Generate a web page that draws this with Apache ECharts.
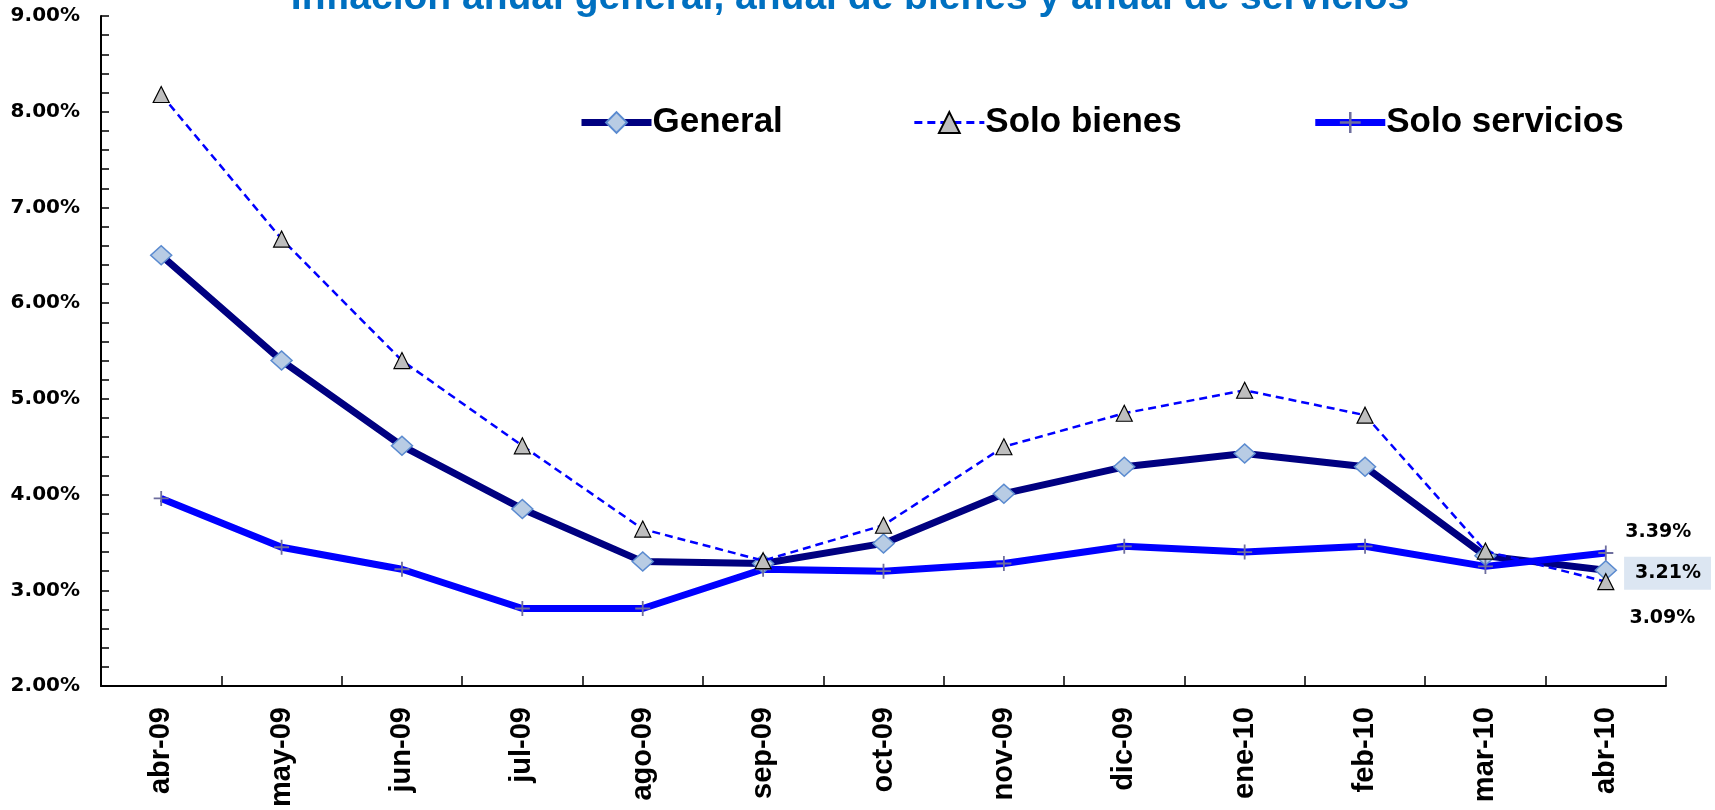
<!DOCTYPE html>
<html>
<head>
<meta charset="utf-8">
<script src="https://cdn.jsdelivr.net/npm/echarts@6/dist/echarts.min.js"></script>
<style>
  html, body { margin: 0; padding: 0; background: #fff; }
  #chart { width: 1715px; height: 810px; }
</style>
</head>
<body>
<div id="chart"></div>
<script>
// meses
const months = ["abr-09", "may-09", "jun-09", "jul-09", "ago-09", "sep-09", "oct-09",
  "nov-09", "dic-09", "ene-10", "feb-10", "mar-10", "abr-10"];
// inflación anual (%)
const general = [6.50, 5.40, 4.51, 3.85, 3.30, 3.28, 3.49, 4.01, 4.29, 4.43, 4.29, 3.36, 3.21];
const bienes = [8.18, 6.67, 5.40, 4.51, 3.64, 3.31, 3.68, 4.50, 4.85, 5.09, 4.83, 3.41, 3.09];
const servicios = [3.96, 3.45, 3.22, 2.81, 2.81, 3.22, 3.20, 3.28, 3.46, 3.40, 3.46, 3.25, 3.39];

const chart = echarts.init(document.getElementById("chart"));
const last = months.length - 1;
const plusIcon = "path://M4.4,0h1.2v4.4h4.4v1.2h-4.4v4.4h-1.2v-4.4h-4.4v-1.2h4.4z";

// solo el último punto lleva etiqueta
function withEndLabel(values, label) {
  return values.map((v, i) => {
    if (i !== last) return v;
    return {
      value: v,
      label: Object.assign({
        show: true,
        position: "right",
        color: "#000",
        fontFamily: "DejaVu Sans",
        fontWeight: "bold",
        fontSize: 19,
        formatter: (p) => p.value.toFixed(2) + "%"
      }, label)
    };
  });
}

const option = {
  animation: false,
  title: {
    text: "Inflación anual general, anual de bienes y anual de servicios",
    left: 845,
    textAlign: "center",
    top: -26,
    textStyle: {
      color: "#0070C0",
      fontFamily: "Liberation Sans",
      fontWeight: "bold",
      fontSize: 39
    }
  },
  legend: {
    data: [
      { name: "General", lineStyle: { width: 7 } },
      { name: "Solo bienes", lineStyle: { width: 3 } },
      { name: "Solo servicios", lineStyle: { width: 7 } }
    ],
    left: 573,
    top: 100,
    itemWidth: 70,
    itemHeight: 26,
    itemGap: 130,
    textStyle: {
      color: "#000",
      fontFamily: "Liberation Sans",
      fontWeight: "bold",
      fontSize: 35,
      padding: [0, 0, 0, -4]
    }
  },
  grid: { left: 101, right: 49, top: 16, bottom: 122, containLabel: false },
  xAxis: {
    type: "category",
    data: months,
    boundaryGap: true,
    axisLine: { lineStyle: { color: "#000", width: 2 } },
    axisTick: { show: true, inside: true, length: 10, lineStyle: { color: "#000", width: 1.5 } },
    axisLabel: {
      rotate: 90,
      margin: 21,
      color: "#000",
      fontFamily: "Liberation Sans",
      fontWeight: "bold",
      fontSize: 29
    }
  },
  yAxis: {
    type: "value",
    min: 2,
    max: 9,
    interval: 1,
    splitLine: { show: false },
    axisLine: { show: true, lineStyle: { color: "#000", width: 2 } },
    axisTick: { show: true, inside: true, length: 8, lineStyle: { color: "#000", width: 1.5 } },
    minorTick: { show: true, splitNumber: 5, length: 8, lineStyle: { color: "#000", width: 1.5 } },
    axisLabel: {
      margin: 21,
      color: "#000",
      fontFamily: "DejaVu Sans",
      fontWeight: "bold",
      fontSize: 20,
      formatter: (v) => v.toFixed(2) + "%"
    }
  },
  series: [
    {
      name: "Solo bienes",
      type: "line",
      data: withEndLabel(bienes, { offset: [10, 36] }),
      z: 3,
      symbol: "triangle",
      symbolSize: 16,
      lineStyle: { color: "#0000FF", width: 2.5, type: [8, 5] },
      itemStyle: { color: "#BEBEBE", borderColor: "#000", borderWidth: 1.2 },
      label: { show: false }
    },
    {
      name: "General",
      type: "line",
      data: withEndLabel(general, {
        offset: [2, 3],
        backgroundColor: "#DCE6F2",
        padding: [7, 10, 7, 11]
      }),
      z: 2,
      symbol: "diamond",
      symbolSize: [21, 19],
      lineStyle: { color: "#000080", width: 7 },
      itemStyle: { color: "#B8CCE4", borderColor: "#5B8BD0", borderWidth: 1.5 },
      label: { show: false }
    },
    {
      name: "Solo servicios",
      type: "line",
      data: withEndLabel(servicios, { offset: [7, -21] }),
      z: 2,
      symbol: plusIcon,
      symbolSize: 15,
      lineStyle: { color: "#0000FF", width: 7 },
      itemStyle: { color: "#6E6E9E" },
      label: { show: false }
    }
  ]
};

chart.setOption(option);
</script>
</body>
</html>
